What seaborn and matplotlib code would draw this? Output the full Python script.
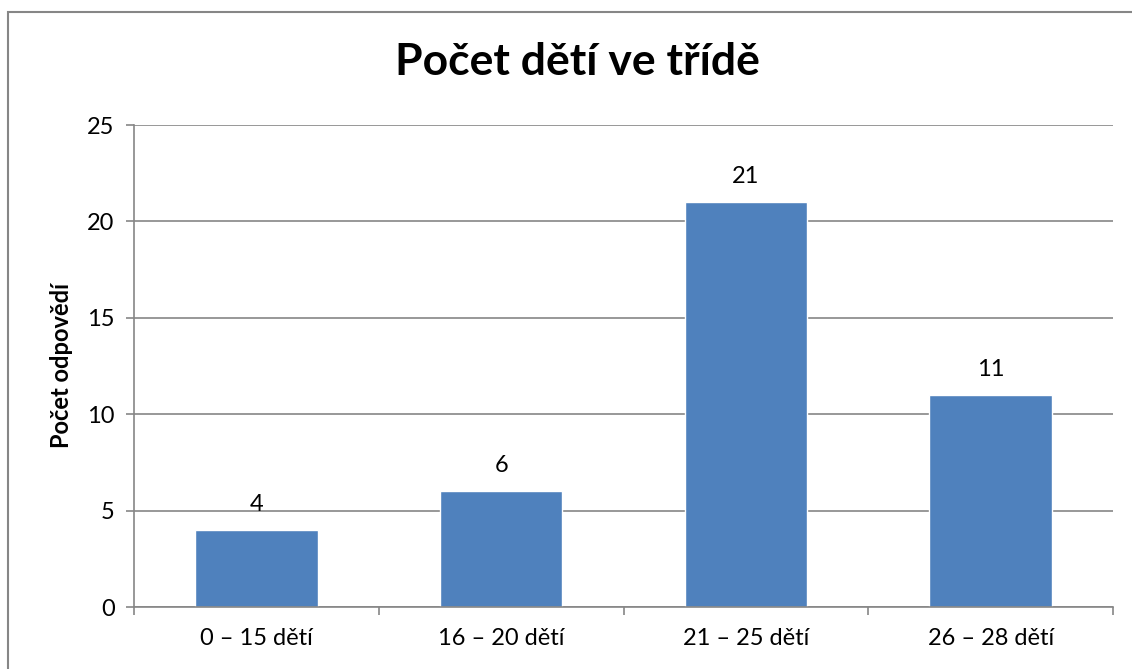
import matplotlib
matplotlib.use('Agg')
import matplotlib.pyplot as plt
from matplotlib.patches import Rectangle
from matplotlib.ticker import FixedLocator
import pandas as pd
import seaborn as sns

categories = ['0 – 15 dětí', '16 – 20 dětí', '21 – 25 dětí', '26 – 28 dětí']
counts = [4, 6, 21, 11]
yticks = [0, 5, 10, 15, 20, 25]

sns.set_style('white')
plt.rcParams['font.family'] = ['Lato', 'DejaVu Sans']
plt.rcParams['text.color'] = 'black'
plt.rcParams['xtick.labelcolor'] = 'black'
plt.rcParams['ytick.labelcolor'] = 'black'
plt.rcParams['axes.labelcolor'] = 'black'

df = pd.DataFrame({'kategorie': categories, 'pocet': counts})

fig = plt.figure(figsize=(11.32, 6.69), dpi=100)
ax = fig.add_axes([134 / 1132, 1 - 607 / 669, (1113 - 134) / 1132, (607 - 125) / 669])

sns.barplot(data=df, x='kategorie', y='pocet', color='#4F81BD', saturation=1,
            width=0.5, ax=ax)

ax.set_xlim(-0.5, len(categories) - 0.5)
ax.set_ylim(0, 25)
ax.set_yticks(yticks)
ax.yaxis.grid(True, color='#868686', linewidth=1.2)
ax.set_axisbelow(True)

for s in ['top', 'right']:
    ax.spines[s].set_visible(False)
for s in ['left', 'bottom']:
    ax.spines[s].set_color('#868686')
    ax.spines[s].set_linewidth(1.2)

ax.tick_params(axis='y', direction='out', length=6, width=1.2, color='#868686',
               labelsize=17, pad=8, left=True, labelcolor='black')
ax.tick_params(axis='x', which='major', length=0, labelsize=17, pad=15, labelcolor='black')
ax.xaxis.set_minor_locator(FixedLocator([i - 0.5 for i in range(len(categories) + 1)]))
ax.tick_params(axis='x', which='minor', direction='out', length=6, width=1.2,
               color='#868686', bottom=True)

for i, v in enumerate(counts):
    ax.annotate(str(v), (i, v), xytext=(0, 11), textcoords='offset points',
                ha='center', va='bottom', fontsize=17, color='black')

ax.set_xlabel('')
ax.set_ylabel('Počet odpovědí', fontsize=17, fontweight='bold', color='black')
ax.yaxis.set_label_coords((73 - 134) / 979, 0.5)
fig.suptitle('Počet dětí ve třídě', fontsize=32, fontweight='bold', x=577 / 1132,
             y=1 - 62 / 669, va='center', color='black')

# outer chart frame
fig.patches.append(Rectangle((8 / 1132, -0.1), 1.2, 1 - 12 / 669 + 0.1,
                             transform=fig.transFigure, fill=False,
                             edgecolor='#868686', linewidth=1.5))

plt.savefig('out.png', dpi=100)
plt.close()
